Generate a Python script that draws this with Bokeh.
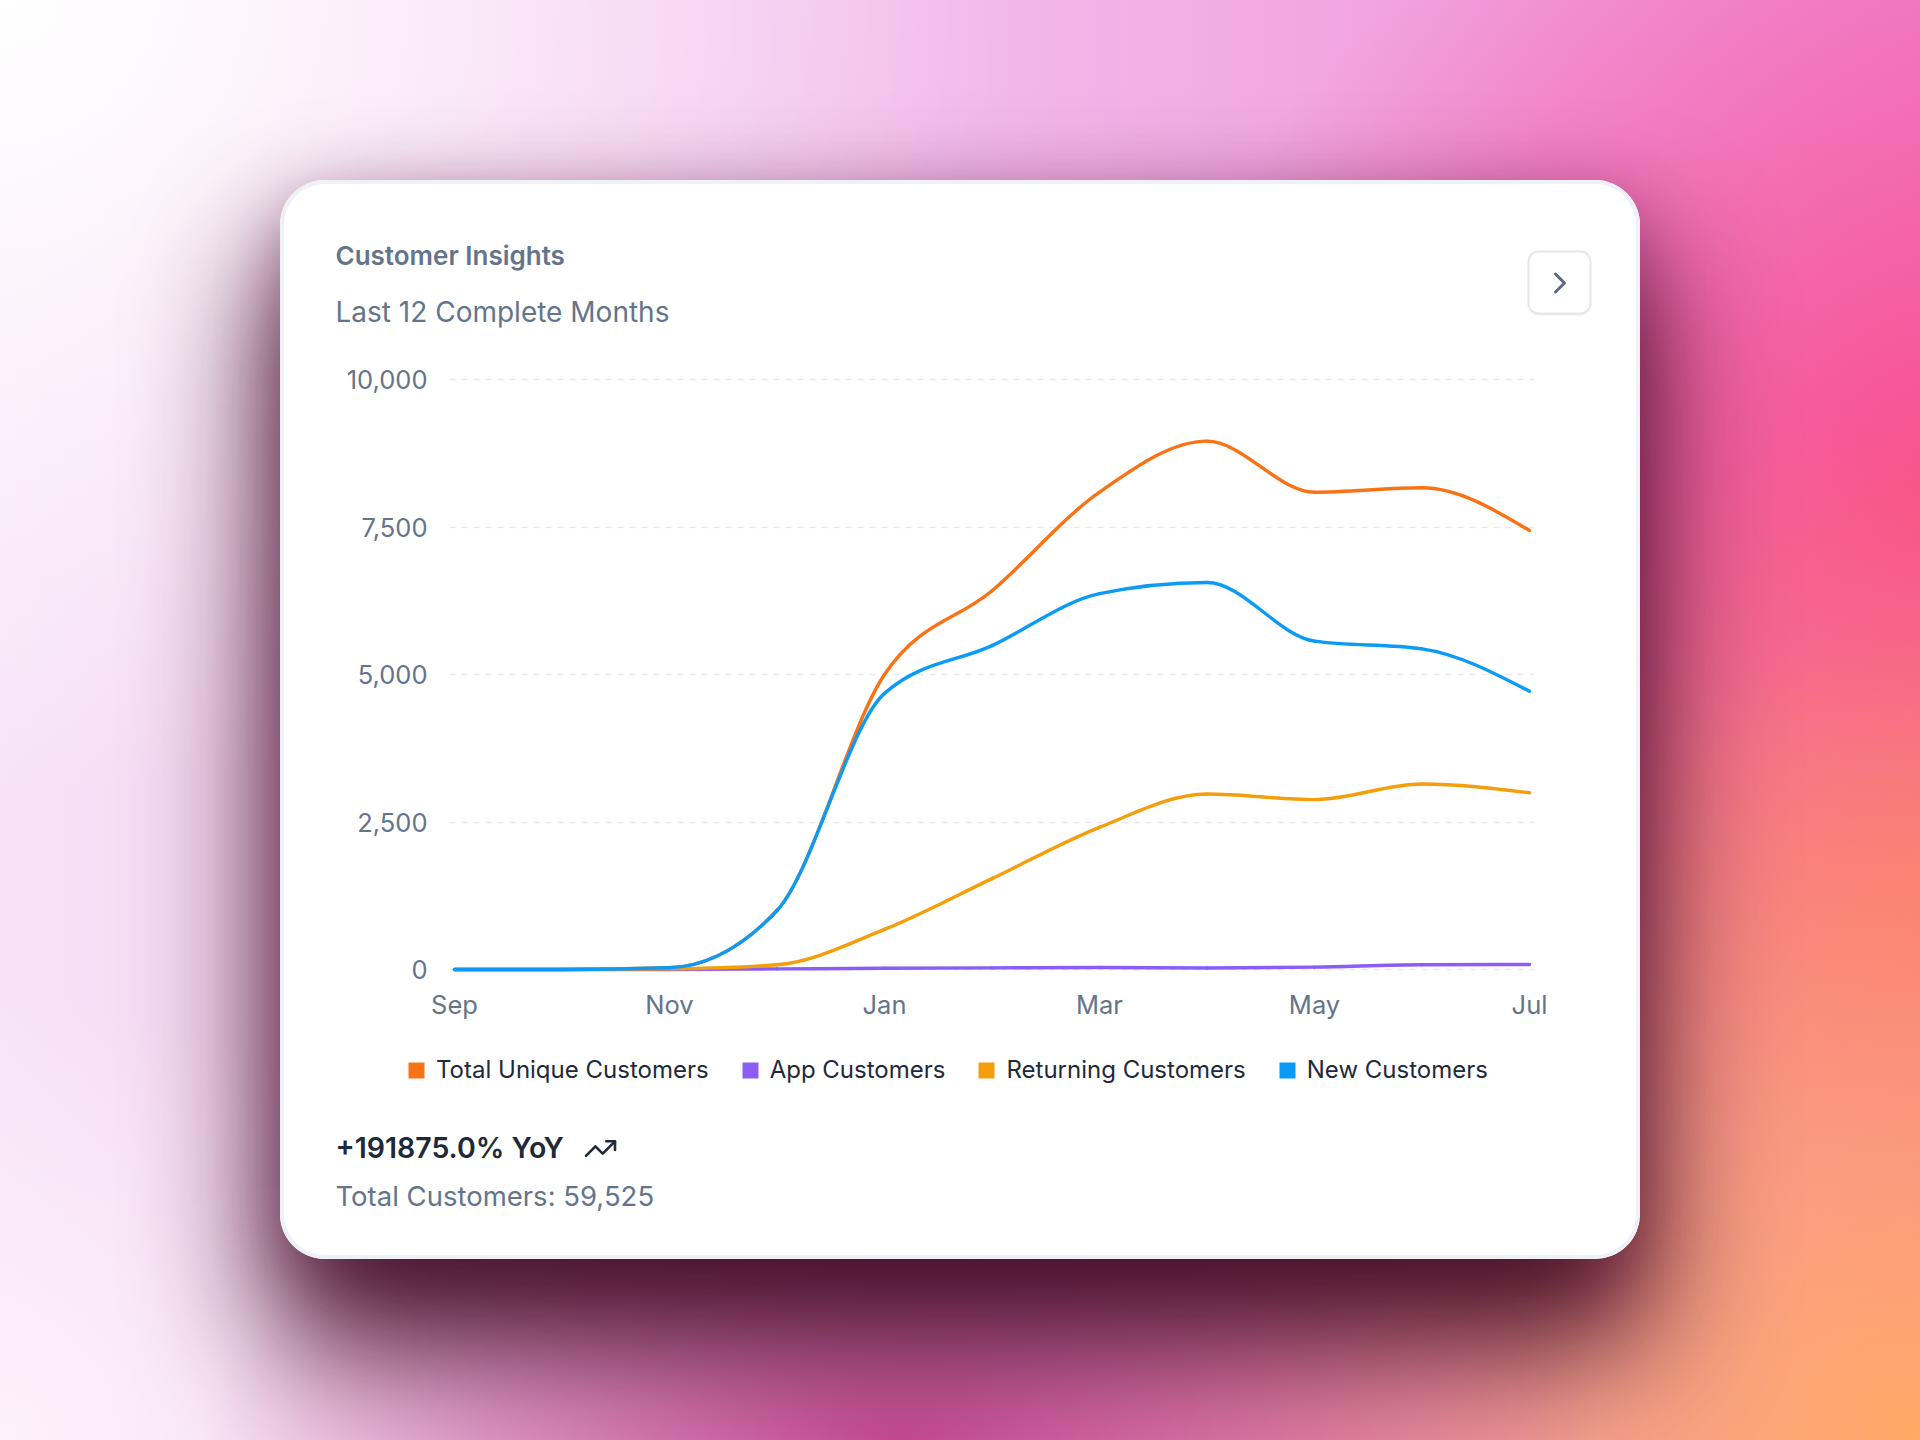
from bokeh.plotting import figure
from bokeh.layouts import column
from bokeh.core.properties import value
from bokeh.models import (Range1d, FixedTicker, NumeralTickFormatter, Legend, LegendItem,
                          ColumnDataSource, GlobalInlineStyleSheet)
from bokeh.embed import file_html
from bokeh.resources import INLINE

# ---- data -------------------------------------------------------------
months = ["Sep", "Oct", "Nov", "Dec", "Jan", "Feb", "Mar", "Apr", "May", "Jun", "Jul"]
total_unique = [0, 0, 30, 1000, 5000, 6420, 8090, 8955, 8090, 8165, 7440]
app_customers = [0, 0, 0, 10, 20, 28, 35, 25, 40, 80, 85]
returning_customers = [0, 0, 10, 80, 680, 1540, 2410, 2975, 2880, 3145, 2995]
new_customers = [0, 0, 30, 1000, 4680, 5490, 6370, 6560, 5565, 5435, 4715]

series_names = ["Total Unique Customers", "App Customers", "Returning Customers", "New Customers"]
series_values = [total_unique, app_customers, returning_customers, new_customers]
series_colors = ["#f97316", "#8b5cf6", "#f59e0b", "#0b9bf5"]

y_ticks = [0, 2500, 5000, 7500, 10000]
x_tick_step = 2

title_text = "Customer Insights"
subtitle_text = "Last 12 Complete Months"
growth_text = "+191875.0% YoY"
total_text = "Total Customers: 59,525"

FONT = "Inter"
FONT_SEMI = "Inter SemiBold, Inter"
MUTED = "#64748b"
DARK = "#1e293b"

# ---- card geometry ----------------------------------------------------
CARD_W, CARD_H = 1360, 1079
HEADER_H = 160
CHART_H = 690
FOOTER_H = CARD_H - HEADER_H - CHART_H

FRAME_L, FRAME_R = 169, 1254            # plot frame, x pixels in card
FRAME_T, FRAME_B = 33, 635              # plot frame, y pixels in chart figure
X0_PX, PX_PER_MONTH = 174, 107.5        # where the first month sits
Y0_PX, PX_PER_UNIT = 629, 0.059         # where zero sits (chart figure pixels)

x_start = (FRAME_L - X0_PX) / PX_PER_MONTH
x_end = (FRAME_R - X0_PX) / PX_PER_MONTH
y_start = -(FRAME_B - Y0_PX) / PX_PER_UNIT
y_end = (Y0_PX - FRAME_T) / PX_PER_UNIT


# ---- monotone-x cubic segments (same scheme as d3.curveMonotoneX) ------
def _sign(v):
    return -1.0 if v < 0 else 1.0


def monotone_bezier(xs, ys):
    n = len(xs)
    t = [0.0] * n
    for i in range(1, n - 1):
        h0 = xs[i] - xs[i - 1]
        h1 = xs[i + 1] - xs[i]
        s0 = (ys[i] - ys[i - 1]) / h0
        s1 = (ys[i + 1] - ys[i]) / h1
        pp = (s0 * h1 + s1 * h0) / (h0 + h1)
        t[i] = (_sign(s0) + _sign(s1)) * min(abs(s0), abs(s1), 0.5 * abs(pp))
    t[0] = (3 * (ys[1] - ys[0]) / (xs[1] - xs[0]) - t[1]) / 2
    t[-1] = (3 * (ys[-1] - ys[-2]) / (xs[-1] - xs[-2]) - t[-2]) / 2
    seg = dict(x0=[], y0=[], x1=[], y1=[], cx0=[], cy0=[], cx1=[], cy1=[])
    for i in range(n - 1):
        d = (xs[i + 1] - xs[i]) / 3
        seg["x0"].append(xs[i]); seg["y0"].append(ys[i])
        seg["x1"].append(xs[i + 1]); seg["y1"].append(ys[i + 1])
        seg["cx0"].append(xs[i] + d); seg["cy0"].append(ys[i] + d * t[i])
        seg["cx1"].append(xs[i + 1] - d); seg["cy1"].append(ys[i + 1] - d * t[i + 1])
    return seg


def pixel_panel(height):
    """A plain drawing surface whose data units are card pixels (y grows downwards)."""
    f = figure(width=CARD_W, height=height, output_backend="svg", toolbar_location=None,
               x_range=Range1d(0, CARD_W), y_range=Range1d(height, 0),
               x_axis_type=None, y_axis_type=None, min_border=0, frame_align=False,
               border_fill_color=None, background_fill_color=None, outline_line_color=None)
    f.xgrid.visible = False
    f.ygrid.visible = False
    return f


# ---- header -----------------------------------------------------------
header = pixel_panel(HEADER_H)
header.text(x=[55], y=[75], text=[title_text], text_font=value(FONT_SEMI), text_font_size="26px",
            text_font_style="bold", text_color=MUTED, text_baseline="middle")
header.text(x=[55], y=[131], text=[subtitle_text], text_font=value(FONT), text_font_size="28px",
            text_color=MUTED, text_baseline="middle")
# round button with a chevron
header.quad(left=[1248], right=[1310], top=[73], bottom=[135], fill_color="#e6eaf0",
            fill_alpha=0.8, line_color=None, border_radius=10)
header.quad(left=[1248], right=[1310], top=[71], bottom=[133], fill_color="#ffffff",
            line_color="#e3e8ee", line_width=2, border_radius=10)
header.line(x=[1275, 1284, 1275], y=[93.5, 102.5, 111.5], line_color="#5b6b82", line_width=3,
            line_cap="round", line_join="round")

# ---- chart ------------------------------------------------------------
x_idx = list(range(len(months)))

p = figure(width=CARD_W, height=CHART_H, output_backend="svg", toolbar_location=None,
           x_range=Range1d(x_start, x_end), y_range=Range1d(y_start, y_end),
           min_border_left=FRAME_L, min_border_right=CARD_W - FRAME_R,
           min_border_top=FRAME_T, min_border_bottom=CHART_H - FRAME_B, frame_align=False,
           border_fill_color=None, background_fill_color=None, outline_line_color=None)

p.xaxis.ticker = FixedTicker(ticks=x_idx[::x_tick_step])
p.xaxis.major_label_overrides = {i: months[i] for i in x_idx[::x_tick_step]}
p.yaxis.ticker = FixedTicker(ticks=y_ticks)
p.yaxis.formatter = NumeralTickFormatter(format="0,0")
for ax in (p.xaxis[0], p.yaxis[0]):
    ax.axis_line_color = None
    ax.major_tick_line_color = None
    ax.minor_tick_line_color = None
    ax.major_tick_out = 0
    ax.major_tick_in = 0
    ax.major_label_text_font = FONT
    ax.major_label_text_font_size = "25.5px"
    ax.major_label_text_color = MUTED
p.xaxis.major_label_standoff = 13
p.yaxis.major_label_standoff = 22

p.xgrid.grid_line_color = None
p.ygrid.grid_line_color = "#e6eaf0"
p.ygrid.grid_line_width = 1.5
p.ygrid.grid_line_dash = "6 6"

for name, vals, color in zip(series_names, series_values, series_colors):
    src = ColumnDataSource(monotone_bezier(x_idx, vals))
    p.bezier(x0="x0", y0="y0", x1="x1", y1="y1", cx0="cx0", cy0="cy0", cx1="cx1", cy1="cy1",
             source=src, line_color=color, line_width=3.4, line_cap="round")

# ---- footer: legend and summary ---------------------------------------
footer = pixel_panel(FOOTER_H)
nan = float("nan")
legend_items = []
for name, color in zip(series_names, series_colors):
    # swatch renderer: only its legend glyph is ever visible
    swatch = footer.quad(left=[nan], right=[nan], top=[nan], bottom=[nan],
                         fill_color=color, line_color=None)
    legend_items.append(LegendItem(label=name, renderers=[swatch]))
legend = Legend(items=legend_items, orientation="horizontal", location=(126, FOOTER_H - 54),
                glyph_width=20, glyph_height=20, label_standoff=10, spacing=31,
                padding=0, margin=0, border_line_color=None, background_fill_alpha=0,
                label_text_font=FONT, label_text_font_size="24px", label_text_color=DARK)
footer.add_layout(legend)

footer.text(x=[55], y=[117], text=[growth_text], text_font=value(FONT_SEMI), text_font_size="28.5px",
            text_font_style="bold", text_color=DARK, text_baseline="middle")
footer.text(x=[55], y=[165], text=[total_text], text_font=value(FONT), text_font_size="27.5px",
            text_color=MUTED, text_baseline="middle")
# trending-up icon
footer.line(x=[305.5, 314.9, 322.2, 334.5], y=[125.3, 115.8, 123.1, 110.8], line_color=DARK,
            line_width=2.6, line_cap="round", line_join="round")
footer.line(x=[325.8, 334.5, 334.5], y=[110.8, 110.8, 119.5], line_color=DARK,
            line_width=2.6, line_cap="round", line_join="round")

card = column(header, p, footer, width=CARD_W, height=CARD_H, margin=(180, 0, 0, 280),
              styles={
                  "background": "#ffffff",
                  "border-radius": "45px",
                  "box-shadow": ("0 80px 130px 10px rgba(60,8,30,0.92), "
                                 "0 20px 60px rgba(120,30,90,0.35), inset 0 0 0 4px #eef2f6"),
              })

backdrop = ("radial-gradient(ellipse 700px 320px at 900px 1440px, rgba(190,40,120,0.75) 0%, rgba(190,40,120,0) 100%), "
            "radial-gradient(ellipse 900px 800px at 1920px 1440px, rgba(255,170,100,1) 0%, rgba(255,170,100,0) 100%), "
            "radial-gradient(ellipse 600px 500px at 1960px 900px, rgba(250,115,110,0.9) 0%, rgba(250,115,110,0) 100%), "
            "radial-gradient(ellipse 800px 700px at 1950px 500px, rgba(248,78,140,1) 0%, rgba(248,78,140,0) 100%), "
            "radial-gradient(ellipse 1000px 800px at 0px 0px, rgba(255,255,255,1) 0%, rgba(255,255,255,0) 100%), "
            "radial-gradient(ellipse 500px 450px at 0px 1440px, rgba(253,241,251,1) 0%, rgba(253,241,251,0) 100%), "
            "linear-gradient(90deg, #f7e3f7 0%, #f3bfec 45%, #ef86d6 100%)")

page = column(card, width=1920, height=1440, styles={"background": backdrop},
              stylesheets=[GlobalInlineStyleSheet(css="html, body { margin: 0; padding: 0; }")])

open("out.html", "w").write(file_html(page, INLINE))
